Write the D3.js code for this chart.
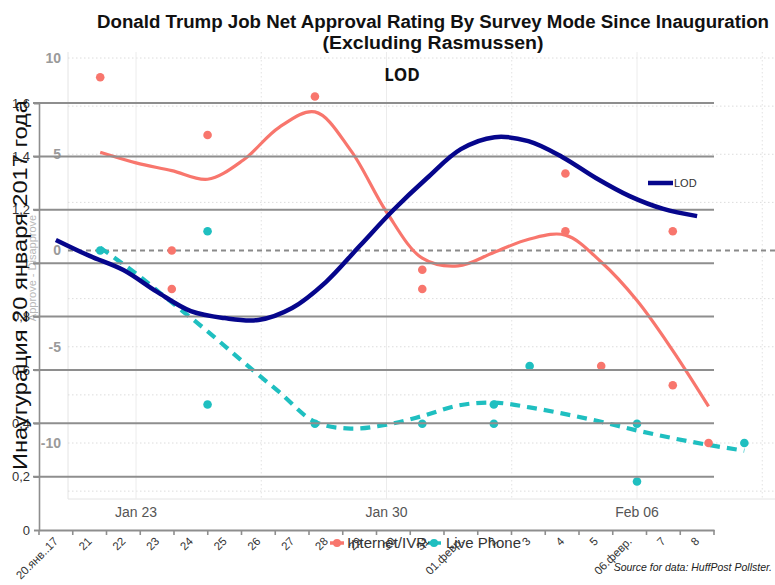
<!DOCTYPE html>
<html><head><meta charset="utf-8">
<script src="https://cdn.jsdelivr.net/npm/d3@7"></script>
<style>body{margin:0;background:#fff}svg{display:block}</style>
</head><body><svg id="c" width="775" height="585"></svg>
<script>
// ---------- background chart data (HuffPost) ----------
const internetLineDates = ["2017-01-22","2017-01-23","2017-01-24","2017-01-25","2017-01-26","2017-01-27","2017-01-28","2017-01-29","2017-01-30","2017-01-31","2017-02-01","2017-02-02","2017-02-03","2017-02-04","2017-02-05","2017-02-06","2017-02-07","2017-02-08"];
const internetLineValues = [5.1, 4.55, 4.15, 3.7, 4.7, 6.4, 7.2, 5.2, 2.0, -0.4, -0.8, -0.1, 0.6, 0.8, -0.6, -2.6, -5.2, -8.1];
const phoneLineDates = ["2017-01-22","2017-01-23","2017-01-24","2017-01-25","2017-01-26","2017-01-27","2017-01-28","2017-01-29","2017-01-30","2017-01-31","2017-02-01","2017-02-02","2017-02-03","2017-02-04","2017-02-05","2017-02-06","2017-02-07","2017-02-08","2017-02-09"];
const phoneLineValues = [0.15, -1.2, -2.7, -4.2, -5.8, -7.35, -8.9, -9.25, -9.05, -8.6, -8.05, -7.9, -8.15, -8.5, -8.9, -9.35, -9.75, -10.1, -10.4];
const internetPollDates = ["2017-01-22","2017-01-24","2017-01-24","2017-01-25","2017-01-28","2017-01-31","2017-01-31","2017-02-04","2017-02-04","2017-02-05","2017-02-07","2017-02-07","2017-02-08"];
const internetPollValues = [9, 0, -2, 6, 8, -1, -2, 4, 1, -6, 1, -7, -10];
const phonePollDates = ["2017-01-22","2017-01-25","2017-01-25","2017-01-28","2017-01-31","2017-02-02","2017-02-02","2017-02-03","2017-02-06","2017-02-06","2017-02-09"];
const phonePollValues = [0, 1, -8, -9, -9, -8, -9, -6, -9, -12, -10];
const bgYTicks = [-10, -5, 0, 5, 10];
const bgYGrid = [-12.5, -10, -7.5, -5, -2.5, 2.5, 5, 7.5, 10];
const bgXTicks = ["2017-01-23", "2017-01-30", "2017-02-06"];
const bgXMinor = ["2017-01-26T12:00", "2017-02-02T12:00", "2017-02-09T12:00"];
const seriesNames = ["Internet/IVR", "Live Phone"];

// ---------- overlay chart data (LOD) ----------
const lodCategories = ["20.янв..17","21","22","23","24","25","26","27","28","29","30","31","01.февр.","2","3","4","5","06.февр.","7","8"];
const lodValues = [1.087, 1.027, 0.974, 0.892, 0.82, 0.794, 0.787, 0.832, 0.929, 1.064, 1.199, 1.319, 1.427, 1.472, 1.457, 1.398, 1.319, 1.251, 1.203, 1.176];
const lodTicks = [0, 0.2, 0.4, 0.6, 0.8, 1, 1.2, 1.4, 1.6];

const RED = "#f8766d", TEAL = "#1fbfc0", NAVY = "#06068c";
const svg = d3.select("#c");
const pd = d3.timeParse("%Y-%m-%d");
const pdt = d3.timeParse("%Y-%m-%dT%H:%M");

// background scales
const xT = d3.scaleTime().domain([pd("2017-01-23"), pd("2017-02-06")]).range([136, 637]);
const yB = d3.scaleLinear().domain([-10, 10]).range([443, 58]);
const bgLeft = 68, bgRight = 775, bgBottom = 499, bgTop = 52;

const bg = svg.append("g");
bg.append("line").attr("x1", bgLeft).attr("x2", bgLeft).attr("y1", bgTop).attr("y2", bgBottom).attr("stroke", "#e4e4e4");
bg.append("line").attr("x1", bgLeft).attr("x2", bgRight).attr("y1", bgBottom).attr("y2", bgBottom).attr("stroke", "#e4e4e4");
bg.selectAll(".hg").data(bgYGrid).join("line")
  .attr("x1", bgLeft).attr("x2", bgRight).attr("y1", d => yB(d)).attr("y2", d => yB(d))
  .attr("stroke", "#dcdcdc").attr("stroke-dasharray", "1.5,2.5");
bg.selectAll(".vg").data(bgXTicks).join("line")
  .attr("x1", d => xT(pd(d))).attr("x2", d => xT(pd(d))).attr("y1", bgTop).attr("y2", bgBottom)
  .attr("stroke", "#ececec");
bg.selectAll(".vm").data(bgXMinor).join("line")
  .attr("x1", d => xT(pdt(d))).attr("x2", d => xT(pdt(d))).attr("y1", bgTop).attr("y2", bgBottom)
  .attr("stroke", "#e2e2e2").attr("stroke-dasharray", "1.5,2.5");
bg.selectAll(".yl").data(bgYTicks).join("text")
  .attr("x", 61).attr("y", d => yB(d)).attr("dy", "0.35em").attr("text-anchor", "end")
  .attr("font-family", "Liberation Sans, Arial, sans-serif").attr("font-size", 14).attr("font-weight", "bold")
  .attr("fill", "#9a9a9a").text(d => d);
bg.selectAll(".xl").data(bgXTicks).join("text")
  .attr("x", d => xT(pd(d))).attr("y", 517).attr("text-anchor", "middle")
  .attr("font-family", "Liberation Sans, Arial, sans-serif").attr("font-size", 14)
  .attr("fill", "#555").text(d => d3.timeFormat("%b %d")(pd(d)));
bg.append("text").attr("transform", "translate(36,268) rotate(-90)").attr("text-anchor", "middle")
  .attr("font-family", "Liberation Sans, Arial, sans-serif").attr("font-size", 11).attr("fill", "#b8b8b8")
  .text("Approve - Disapprove");
bg.append("line").attr("x1", bgLeft).attr("x2", bgRight).attr("y1", yB(0)).attr("y2", yB(0))
  .attr("stroke", "#8a8a8a").attr("stroke-width", 2).attr("stroke-dasharray", "5,4");
const bgLine = d3.line().x(d => xT(d[0])).y(d => yB(d[1])).curve(d3.curveCatmullRom.alpha(0.5));
bg.append("path").datum(internetLineDates.map((d, i) => [pd(d), internetLineValues[i]]))
  .attr("d", bgLine).attr("fill", "none").attr("stroke", RED).attr("stroke-width", 3.2);
bg.append("path").datum(phoneLineDates.map((d, i) => [pd(d), phoneLineValues[i]]))
  .attr("d", bgLine).attr("fill", "none").attr("stroke", TEAL).attr("stroke-width", 4.2)
  .attr("stroke-dasharray", "10,7");
bg.selectAll(".rd").data(internetPollDates.map((d, i) => [pd(d), internetPollValues[i]])).join("circle")
  .attr("cx", d => xT(d[0])).attr("cy", d => yB(d[1])).attr("r", 4.3).attr("fill", RED);
bg.selectAll(".td").data(phonePollDates.map((d, i) => [pd(d), phonePollValues[i]])).join("circle")
  .attr("cx", d => xT(d[0])).attr("cy", d => yB(d[1])).attr("r", 4.3).attr("fill", TEAL);

// legend (background)
const lg = svg.append("g").attr("font-family", "Liberation Sans, Arial, sans-serif").attr("font-size", 15).attr("fill", "#333");
lg.append("line").attr("x1", 330).attr("x2", 344).attr("y1", 543).attr("y2", 543).attr("stroke", RED).attr("stroke-width", 3.5);
lg.append("circle").attr("cx", 337).attr("cy", 543).attr("r", 4).attr("fill", RED);
lg.append("text").attr("x", 347).attr("y", 548).text(seriesNames[0]);
lg.append("line").attr("x1", 428).attr("x2", 441).attr("y1", 543).attr("y2", 543).attr("stroke", TEAL).attr("stroke-width", 3.5);
lg.append("circle").attr("cx", 434).attr("cy", 543).attr("r", 4).attr("fill", TEAL);
lg.append("text").attr("x", 446).attr("y", 548).text(seriesNames[1]);

// ---------- overlay chart ----------
const xB = d3.scaleBand().domain(lodCategories).range([39, 714]);
const yL = d3.scaleLinear().domain([0, 1.6]).range([530, 103]);
const ov = svg.append("g");
const commaFmt = d3.formatLocale({decimal: ",", thousands: " ", grouping: [3], currency: ["", ""]}).format("");
ov.selectAll(".og").data(lodTicks.filter(d => d > 0)).join("line")
  .attr("x1", 33).attr("x2", 714).attr("y1", d => yL(d)).attr("y2", d => yL(d))
  .attr("stroke", "#8e8e8e").attr("stroke-width", 2);
const yAx = ov.append("g").attr("transform", "translate(39,0)")
  .call(d3.axisLeft(yL).tickValues(lodTicks).tickFormat(commaFmt).tickSize(5).tickPadding(4));
yAx.select(".domain").attr("stroke", "#8e8e8e").attr("stroke-width", 1.6);
yAx.selectAll(".tick line").attr("stroke", "#8e8e8e").attr("stroke-width", 1.6);
yAx.selectAll(".tick text").attr("font-family", "Liberation Sans, Arial, sans-serif").attr("font-size", 13).attr("fill", "#333");
const xAx = ov.append("g").attr("transform", "translate(0,530)")
  .call(d3.axisBottom(xB).tickSize(0).tickFormat(d => d));
xAx.select(".domain").attr("stroke", "#8e8e8e").attr("stroke-width", 2);
xAx.selectAll(".tick text").attr("font-family", "Liberation Sans, Arial, sans-serif").attr("font-size", 11.5).attr("fill", "#333")
  .attr("text-anchor", "end").attr("dy", 0).attr("y", 0)
  .attr("transform", "translate(3,12) rotate(-45)");
ov.selectAll(".bt").data(lodCategories.concat(["_end"])).join("line")
  .attr("x1", (d, i) => i < lodCategories.length ? xB(d) : xB.range()[1])
  .attr("x2", (d, i) => i < lodCategories.length ? xB(d) : xB.range()[1])
  .attr("y1", 530).attr("y2", 535).attr("stroke", "#8e8e8e").attr("stroke-width", 1.6);
const lodLine = d3.line().x(d => xB(d[0]) + xB.bandwidth() / 2).y(d => yL(d[1])).curve(d3.curveCatmullRom.alpha(0.5));
ov.append("path").datum(lodCategories.map((c, i) => [c, lodValues[i]]))
  .attr("d", lodLine).attr("fill", "none").attr("stroke", NAVY).attr("stroke-width", 4.5).attr("stroke-linejoin", "round");
ov.append("text").attr("x", 402).attr("y", 81).attr("text-anchor", "middle")
  .attr("font-family", "Open Sans, Liberation Sans, sans-serif").attr("font-weight", "bold").attr("font-size", 17)
  .attr("fill", "#111").text("LOD");
ov.append("line").attr("x1", 648).attr("x2", 673).attr("y1", 183).attr("y2", 183).attr("stroke", NAVY).attr("stroke-width", 4.5);
ov.append("text").attr("x", 674).attr("y", 187).attr("font-family", "Liberation Sans, Arial, sans-serif")
  .attr("font-size", 11).attr("fill", "#333").text("LOD");
ov.append("text").attr("transform", "translate(27,285) rotate(-90)").attr("text-anchor", "middle")
  .attr("font-family", "Liberation Sans, Arial, sans-serif").attr("font-size", 20).attr("fill", "#111")
  .attr("textLength", 370).attr("lengthAdjust", "spacingAndGlyphs")
  .text("Инаугурация 20 января 2017 года");

// ---------- main title & source ----------
svg.append("text").attr("x", 433).attr("y", 28).attr("text-anchor", "middle")
  .attr("font-family", "Liberation Sans, Arial, sans-serif").attr("font-weight", "bold").attr("font-size", 18)
  .attr("textLength", 672).attr("lengthAdjust", "spacingAndGlyphs").attr("fill", "#111")
  .text("Donald Trump Job Net Approval Rating By Survey Mode Since Inauguration");
svg.append("text").attr("x", 433).attr("y", 49).attr("text-anchor", "middle")
  .attr("font-family", "Liberation Sans, Arial, sans-serif").attr("font-weight", "bold").attr("font-size", 18)
  .attr("textLength", 221).attr("lengthAdjust", "spacingAndGlyphs").attr("fill", "#111")
  .text("(Excluding Rasmussen)");
svg.append("text").attr("x", 772).attr("y", 571).attr("text-anchor", "end")
  .attr("font-family", "Liberation Sans, Arial, sans-serif").attr("font-style", "italic").attr("font-size", 10.5)
  .attr("fill", "#222").text("Source for data: HuffPost Pollster.");
</script></body></html>
